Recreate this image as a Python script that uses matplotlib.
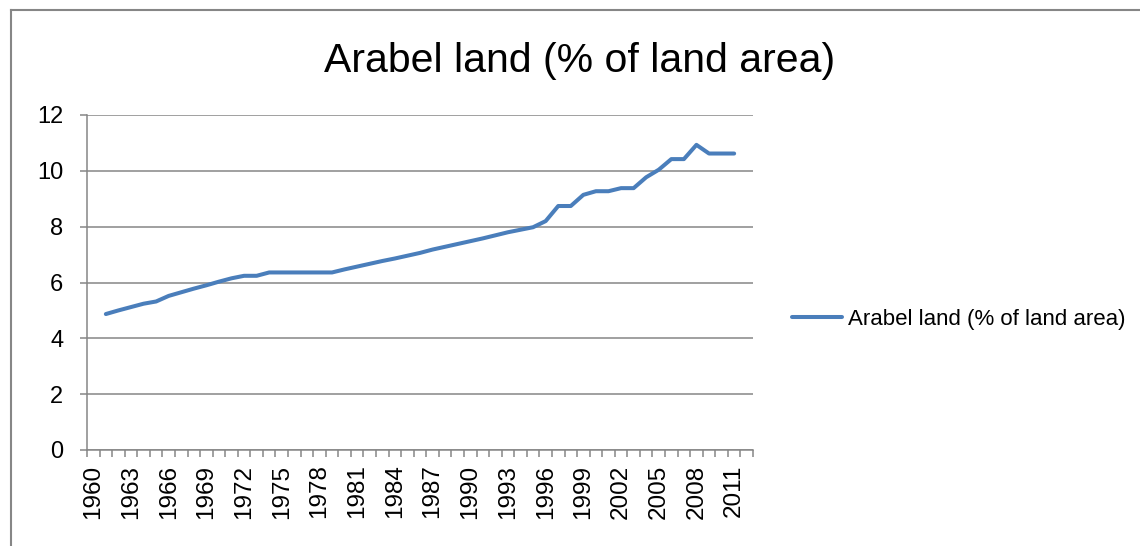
import numpy as np
import matplotlib
matplotlib.use("Agg")
import matplotlib.pyplot as plt
from matplotlib.lines import Line2D

plt.rcParams['font.family'] = ['Liberation Sans', 'DejaVu Sans']

# categories 1960..2012 (first and last have no value)
years = list(range(1960, 2013))
arable = [np.nan,
          4.87, 5.00, 5.12, 5.24, 5.32, 5.52, 5.65, 5.78, 5.90, 6.03,   # 1961-1970
          6.15, 6.24, 6.24, 6.36, 6.36, 6.36, 6.36, 6.36, 6.36, 6.47,   # 1971-1980
          6.57, 6.67, 6.77, 6.86, 6.96, 7.06, 7.18, 7.28, 7.38, 7.48,   # 1981-1990
          7.58, 7.69, 7.80, 7.89, 7.98, 8.20, 8.74, 8.74, 9.14, 9.27,   # 1991-2000
          9.27, 9.38, 9.38, 9.77, 10.04, 10.42, 10.42, 10.93, 10.62, 10.62,  # 2001-2010
          10.62,                                                       # 2011
          np.nan]
tick_labels = [str(y) for y in years[::3]]
series_name = "Arabel land (% of land area)"

W, H = 1140, 546
fig = plt.figure(figsize=(W / 100, H / 100), dpi=100)
ax = fig.add_axes([87 / W, (H - 450) / H, (753 - 87) / W, (450 - 115) / H])

grey = "#868686"
x = np.arange(len(years))
ax.plot(x, arable, color="#4A7EBB", lw=2.9, solid_joinstyle="round",
        solid_capstyle="round", label=series_name)

ax.set_xlim(-0.5, len(years) - 0.5)
ax.set_ylim(0, 12)
ax.set_yticks(range(0, 13, 2))
ax.yaxis.grid(True, color=grey, lw=1.1)
ax.set_axisbelow(True)

ax.set_xticks(x[::3])
ax.set_xticklabels(tick_labels, rotation=90)
ax.set_xticks(np.arange(-0.5, len(years)), minor=True)
ax.tick_params(axis="x", which="major", length=0, pad=10.5, labelsize=17.5)
ax.tick_params(axis="x", which="minor", length=5, width=1.1, color=grey)
ax.tick_params(axis="y", length=5, width=1.1, color=grey, pad=12, labelsize=17)

for side in ["top", "right"]:
    ax.spines[side].set_visible(False)
for side in ["left", "bottom"]:
    ax.spines[side].set_color(grey)
    ax.spines[side].set_linewidth(1.1)

fig.text(580 / W, (H - 72) / H, series_name, ha="center", va="baseline", fontsize=29.5)

ax.legend(loc="center left", bbox_to_anchor=(792 / W, (H - 319) / H),
          bbox_transform=fig.transFigure, frameon=False, fontsize=16,
          borderpad=0, borderaxespad=0, handlelength=2.25, handletextpad=0.27)

# chart border (left and top edges visible)
fig.add_artist(Line2D([11 / W, 11 / W], [0, (H - 10) / H], color=grey, lw=1.5,
                      transform=fig.transFigure))
fig.add_artist(Line2D([11 / W, 1], [(H - 10) / H, (H - 10) / H], color=grey, lw=1.5,
                      transform=fig.transFigure))

fig.savefig("out.png", dpi=100)
